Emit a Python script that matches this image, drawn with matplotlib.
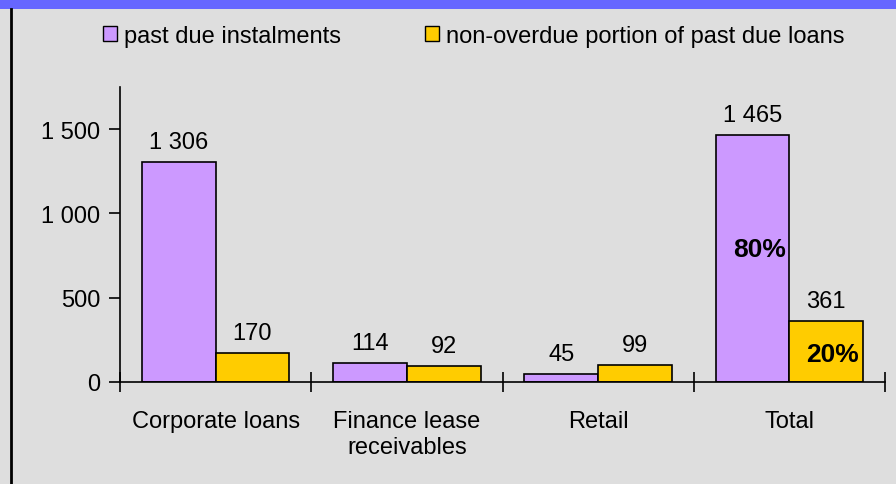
import numpy as np
import matplotlib
matplotlib.use("Agg")
import matplotlib.pyplot as plt
from matplotlib.patches import Rectangle
from matplotlib.lines import Line2D

categories = ["Corporate loans", "Finance lease\nreceivables", "Retail", "Total"]
past_due = [1306, 114, 45, 1465]
non_overdue = [170, 92, 99, 361]
value_labels_past = ["1 306", "114", "45", "1 465"]
value_labels_non = ["170", "92", "99", "361"]
share_labels = ["80%", "20%"]
yticks = [0, 500, 1000, 1500]
ytick_labels = ["0", "500", "1 000", "1 500"]
legend_labels = ["past due instalments", "non-overdue portion of past due loans"]

purple = "#CC99FF"
gold = "#FFCC00"
bg = "#DEDEDE"

plt.rcParams["font.family"] = ["Liberation Sans", "DejaVu Sans"]
fs = 17

fig = plt.figure(figsize=(8.96, 4.85), dpi=100)
fig.patch.set_facecolor(bg)

# blue band at top and black border on the left
fig.add_artist(Rectangle((0, 1 - 10 / 485), 1, 10 / 485, transform=fig.transFigure,
                         facecolor="#6666FF", edgecolor="none"))
fig.add_artist(Line2D([11 / 896, 11 / 896], [0, 1 - 10 / 485], transform=fig.transFigure,
                      color="black", lw=2))

ax = fig.add_axes([120 / 896, 1 - 383 / 485, 765 / 896, 295 / 485])
ax.set_facecolor("none")

x = np.arange(len(categories))
w = 0.385
ax.bar(x - w / 2, past_due, w, color=purple, edgecolor="black", linewidth=1.2)
ax.bar(x + w / 2, non_overdue, w, color=gold, edgecolor="black", linewidth=1.2)

for xi, v, lab in zip(x - w / 2, past_due, value_labels_past):
    ax.text(xi, v + 55, lab, ha="center", va="bottom", fontsize=fs)
for xi, v, lab in zip(x + w / 2, non_overdue, value_labels_non):
    ax.text(xi, v + 55, lab, ha="center", va="bottom", fontsize=fs)

ax.text(x[3] - 0.02, 790, share_labels[0], ha="right", va="center", fontsize=19, fontweight="bold")
ax.text(x[3] + w - 0.02, 168, share_labels[1], ha="right", va="center", fontsize=19, fontweight="bold")

ax.set_xlim(-0.5, 3.5)
ax.set_ylim(0, 1750)
for s in ["top", "right"]:
    ax.spines[s].set_visible(False)
ax.spines["left"].set_linewidth(1.2)
ax.spines["bottom"].set_linewidth(1.2)

ax.set_yticks(yticks)
ax.set_yticklabels(ytick_labels, fontsize=fs)
ax.tick_params(axis="y", direction="out", length=8, width=1.2, pad=6)

ax.set_xticks(np.arange(-0.5, 4, 1))
ax.set_xticklabels([])
ax.tick_params(axis="x", which="major", direction="inout", length=15, width=1.2)
ax.set_xticks(x, minor=True)
ax.set_xticklabels(categories, minor=True, fontsize=fs, linespacing=1.25)
ax.tick_params(axis="x", which="minor", length=0, pad=20)

# legend
handles = [Rectangle((0, 0), 1, 1, facecolor=purple, edgecolor="black"),
           Rectangle((0, 0), 1, 1, facecolor=gold, edgecolor="black")]
fig.legend(handles, legend_labels, loc="upper center", bbox_to_anchor=(0.529, 0.99),
           ncol=2, frameon=False, fontsize=fs, handlelength=0.6, handleheight=0.6,
           handletextpad=0.3, columnspacing=3.55)

fig.savefig("out.png", dpi=100, facecolor=bg)
